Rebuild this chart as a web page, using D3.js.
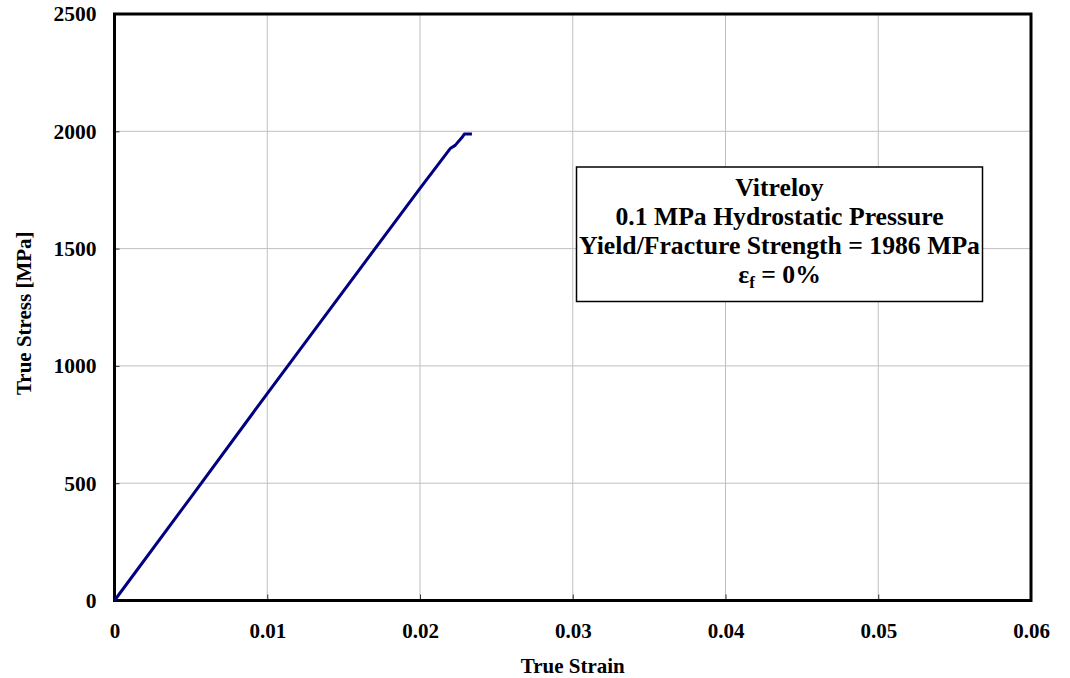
<!DOCTYPE html>
<html><head><meta charset="utf-8">
<script src="https://cdn.jsdelivr.net/npm/d3@7"></script>
<style>body{margin:0;background:#fff}svg{display:block}text{font-family:"Liberation Serif","Times New Roman",serif;font-weight:bold;fill:#000}</style>
</head><body>
<svg id="c" width="1070" height="678"></svg>
<script>
const strain = [0, 0.005, 0.010, 0.015, 0.020, 0.0220, 0.0223, 0.0228, 0.0229, 0.0234];
const stress = [0, 440, 882, 1320, 1757, 1928, 1940, 1978, 1988, 1988];
const xTicks = [0, 0.01, 0.02, 0.03, 0.04, 0.05, 0.06];
const xTickLabels = ["0", "0.01", "0.02", "0.03", "0.04", "0.05", "0.06"];
const yTicks = [0, 500, 1000, 1500, 2000, 2500];
const legendLines = ["Vitreloy", "0.1 MPa Hydrostatic Pressure", "Yield/Fracture Strength = 1986 MPa"];

const svg = d3.select("#c");
const L = 114.5, R = 1031, T = 14, B = 600.5;
const x = d3.scaleLinear().domain([0, 0.06]).range([L, R]);
const y = d3.scaleLinear().domain([0, 2500]).range([B, T]);

// gridlines
svg.append("g").selectAll("line").data(xTicks.slice(1, -1)).join("line")
  .attr("x1", d => x(d)).attr("x2", d => x(d)).attr("y1", T).attr("y2", B)
  .attr("stroke", "#c0c0c0").attr("stroke-width", 1);
svg.append("g").selectAll("line").data(yTicks.slice(1, -1)).join("line")
  .attr("y1", d => y(d)).attr("y2", d => y(d)).attr("x1", L).attr("x2", R)
  .attr("stroke", "#c0c0c0").attr("stroke-width", 1);

// axes
const xAxis = d3.axisBottom(x).tickValues(xTicks).tickFormat((d, i) => xTickLabels[i]).tickSizeInner(-6).tickSizeOuter(0).tickPadding(23);
const gx = svg.append("g").attr("transform", `translate(0,${B})`).call(xAxis);
gx.select(".domain").remove();
gx.selectAll(".tick line").attr("stroke", "#333").attr("stroke-width", 1);
gx.selectAll(".tick text").attr("font-size", 21).attr("font-family", "Liberation Serif").attr("font-weight", "bold").attr("fill", "#000");

const yAxis = d3.axisLeft(y).tickValues(yTicks).tickFormat(d3.format("d")).tickSizeInner(-5).tickSizeOuter(0).tickPadding(18);
const gy = svg.append("g").attr("transform", `translate(${L},0)`).call(yAxis);
gy.select(".domain").remove();
gy.selectAll(".tick line").attr("stroke", "#333").attr("stroke-width", 1);
gy.selectAll(".tick text").attr("font-size", 21.5).attr("font-family", "Liberation Serif").attr("font-weight", "bold").attr("fill", "#000");

// frame
svg.append("rect").attr("x", L).attr("y", T).attr("width", R - L).attr("height", B - T)
  .attr("fill", "none").attr("stroke", "#000").attr("stroke-width", 3);

// curve
const pts = strain.map((s, i) => [s, stress[i]]);
svg.append("path").datum(pts)
  .attr("d", d3.line().x(d => x(d[0])).y(d => y(d[1])))
  .attr("fill", "none").attr("stroke", "#000080").attr("stroke-width", 3).attr("stroke-linejoin", "round");

// axis titles
svg.append("text").attr("x", (L + R) / 2).attr("y", 673).attr("text-anchor", "middle").attr("font-size", 21).text("True Strain");
svg.append("text").attr("transform", `translate(31,${(T + B) / 2 + 6}) rotate(-90)`).attr("text-anchor", "middle").attr("font-size", 21).text("True Stress [MPa]");

// legend box
svg.append("rect").attr("x", 576.5).attr("y", 167).attr("width", 406).attr("height", 134.5)
  .attr("fill", "#fff").attr("stroke", "#000").attr("stroke-width", 1.5);
const cx = 779.5;
const baselines = [196, 225, 253.5];
legendLines.forEach((t, i) => {
  svg.append("text").attr("x", cx).attr("y", baselines[i]).attr("text-anchor", "middle").attr("font-size", 25.7).text(t);
});
const t4 = svg.append("text").attr("x", cx).attr("y", 283).attr("text-anchor", "middle").attr("font-size", 25.7);
t4.append("tspan").text("ε");
t4.append("tspan").attr("font-size", 17).attr("dy", 5).text("f");
t4.append("tspan").attr("dy", -5).text(" = 0%");
</script>
</body></html>
